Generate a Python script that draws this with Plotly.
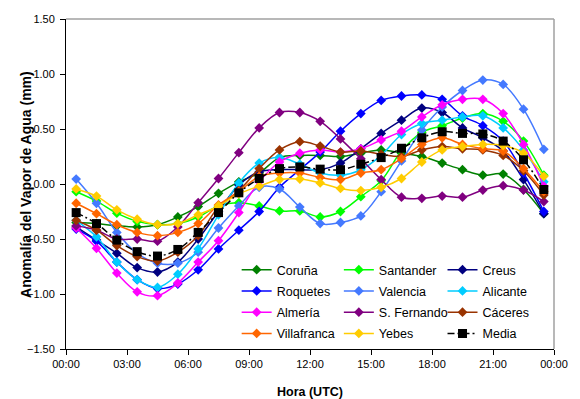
import plotly.graph_objects as go

hours = [h + 0.5 for h in range(24)]
tick_vals = [0, 3, 6, 9, 12, 15, 18, 21, 24]
tick_text = ["00:00", "03:00", "06:00", "09:00", "12:00", "15:00", "18:00", "21:00", "00:00"]

coruna = [-0.35, -0.36, -0.38, -0.39, -0.37, -0.30, -0.205, -0.085, 0.02, 0.10, 0.24, 0.26,
          0.26, 0.25, 0.28, 0.31, 0.28, 0.25, 0.19, 0.13, 0.08, 0.09, -0.05, -0.27]
santander = [-0.07, -0.155, -0.265, -0.34, -0.37, -0.36, -0.30, -0.20, -0.17, -0.20, -0.245, -0.245,
             -0.30, -0.25, -0.115, 0.03, 0.30, 0.47, 0.53, 0.60, 0.64, 0.57, 0.39, 0.08]
creus = [-0.39, -0.51, -0.63, -0.76, -0.80, -0.71, -0.50, -0.25, -0.01, 0.11, 0.13, 0.13,
         0.13, 0.19, 0.32, 0.46, 0.58, 0.69, 0.65, 0.51, 0.42, 0.30, 0.04, -0.27]
roquetes = [-0.41, -0.52, -0.71, -0.87, -0.95, -0.91, -0.78, -0.59, -0.42, -0.25, -0.03, 0.13,
            0.29, 0.48, 0.64, 0.76, 0.80, 0.81, 0.77, 0.62, 0.53, 0.39, 0.10, -0.25]
valencia = [0.045, -0.175, -0.44, -0.63, -0.72, -0.72, -0.62, -0.40, -0.20, -0.03, -0.045, -0.21,
            -0.36, -0.35, -0.29, -0.07, 0.21, 0.49, 0.70, 0.85, 0.945, 0.905, 0.68, 0.315]
alicante = [-0.33, -0.48, -0.71, -0.87, -0.94, -0.82, -0.59, -0.28, 0.01, 0.19, 0.24, 0.18,
            0.10, 0.08, 0.13, 0.26, 0.45, 0.55, 0.58, 0.61, 0.62, 0.51, 0.31, 0.02]
almeria = [-0.40, -0.585, -0.81, -0.98, -1.015, -0.90, -0.71, -0.515, -0.26, 0.02, 0.20, 0.28,
           0.31, 0.29, 0.32, 0.40, 0.48, 0.61, 0.72, 0.77, 0.77, 0.64, 0.36, -0.02]
sfernando = [-0.38, -0.42, -0.50, -0.50, -0.52, -0.39, -0.17, 0.05, 0.285, 0.51, 0.65, 0.65,
             0.57, 0.41, 0.23, 0.04, -0.12, -0.13, -0.11, -0.12, -0.055, -0.015, -0.055, -0.16]
caceres = [-0.33, -0.42, -0.56, -0.66, -0.70, -0.62, -0.47, -0.21, -0.06, 0.14, 0.31, 0.385,
           0.345, 0.29, 0.30, 0.27, 0.25, 0.31, 0.34, 0.32, 0.31, 0.26, 0.12, -0.10]
villafranca = [-0.175, -0.27, -0.37, -0.44, -0.47, -0.44, -0.36, -0.19, -0.07, 0.07, 0.10, 0.10,
               0.06, 0.04, 0.10, 0.13, 0.23, 0.36, 0.42, 0.36, 0.32, 0.30, 0.14, -0.07]
yebes = [-0.045, -0.11, -0.235, -0.32, -0.37, -0.36, -0.28, -0.20, -0.09, -0.02, 0.04, 0.045,
         0.01, -0.04, -0.06, -0.03, 0.05, 0.20, 0.31, 0.34, 0.36, 0.35, 0.28, 0.07]
media = [-0.26, -0.36, -0.51, -0.615, -0.655, -0.595, -0.44, -0.26, -0.08, 0.05, 0.14, 0.155,
         0.135, 0.13, 0.18, 0.24, 0.325, 0.42, 0.475, 0.46, 0.455, 0.39, 0.22, -0.05]

series = [
    ("Coruña", coruna, "#008000", "legend"),
    ("Santander", santander, "#00FF00", "legend2"),
    ("Creus", creus, "#000080", "legend3"),
    ("Roquetes", roquetes, "#0000FF", "legend"),
    ("Valencia", valencia, "#4479FF", "legend2"),
    ("Alicante", alicante, "#00CCFF", "legend3"),
    ("Almería", almeria, "#FF00FF", "legend"),
    ("S. Fernando", sfernando, "#800080", "legend2"),
    ("Cáceres", caceres, "#993300", "legend3"),
    ("Villafranca", villafranca, "#FF6600", "legend"),
    ("Yebes", yebes, "#FFCC00", "legend2"),
]

FONT = "Liberation Sans, Arial, sans-serif"
fig = go.Figure()
for i, (name, vals, col, lg) in enumerate(series):
    fig.add_trace(go.Scatter(
        x=hours, y=vals, name=name, mode="lines+markers",
        line=dict(color=col, width=1.5, shape="spline", smoothing=1.0),
        marker=dict(symbol="diamond", size=7.5, color=col),
        legend=lg, legendgroup="g%d" % i,
    ))
fig.add_trace(go.Scatter(
    x=hours, y=media, name="Media", mode="lines+markers",
    line=dict(color="#000000", width=1.5, dash="7px,3px,2px,3px", shape="spline", smoothing=1.0),
    marker=dict(symbol="square", size=9, color="#000000"),
    legend="legend3", legendgroup="g11",
))

L, R, T, B = 66, 15, 19, 50
W, H = 580, 399
pw, ph = W - L - R, H - T - B

def px(xp):
    return (xp - L) / pw

def py(yp):
    return (H - B - yp) / ph

leg_common = dict(font=dict(family=FONT, size=12.5, color="#000000"), bgcolor="rgba(0,0,0,0)",
                  xanchor="left", yanchor="top", tracegroupgap=2, itemwidth=30)
fig.update_layout(
    width=W, height=H,
    margin=dict(l=L, r=R, t=T, b=B),
    paper_bgcolor="white", plot_bgcolor="white",
    font=dict(family=FONT, size=11, color="#000000"),
    showlegend=True,
    legend=dict(x=px(240.5), y=py(255), **leg_common),
    legend2=dict(x=px(345), y=py(255), **leg_common),
    legend3=dict(x=px(451), y=py(255), **leg_common),
    xaxis=dict(range=[0, 24], tickvals=tick_vals, ticktext=tick_text, showgrid=False, zeroline=False,
               showline=True, linecolor="#000000", linewidth=1, ticks="outside", ticklen=5,
               tickcolor="#000000", tickfont=dict(family=FONT, size=11, color="#000000")),
    yaxis=dict(range=[-1.5, 1.5], dtick=0.5, tick0=-1.5, tickformat=".2f", showgrid=False, zeroline=False,
               showline=True, linecolor="#000000", linewidth=1, ticks="outside", ticklen=5,
               tickcolor="#000000", ticklabelstandoff=3,
               tickfont=dict(family=FONT, size=11, color="#000000")),
    shapes=[
        dict(type="line", xref="paper", yref="paper", x0=0, x1=1, y0=1, y1=1,
             line=dict(color="#A0A0A0", width=1.5)),
        dict(type="line", xref="paper", yref="paper", x0=1, x1=1, y0=0, y1=1,
             line=dict(color="#A0A0A0", width=1.5)),
    ],
    annotations=[
        dict(text="<b>Hora (UTC)</b>", xref="paper", yref="paper", x=0.5, y=py(391.5),
             xanchor="center", yanchor="middle", showarrow=False,
             font=dict(family=FONT, size=12.5, color="#000000")),
        dict(text="<b>Anomalía del Vapor de Agua (mm)</b>", xref="paper", yref="paper",
             x=px(25), y=0.5, xanchor="center", yanchor="middle", textangle=-90, showarrow=False,
             font=dict(family=FONT, size=14, color="#000000")),
    ],
)
fig.write_html("out.html")
